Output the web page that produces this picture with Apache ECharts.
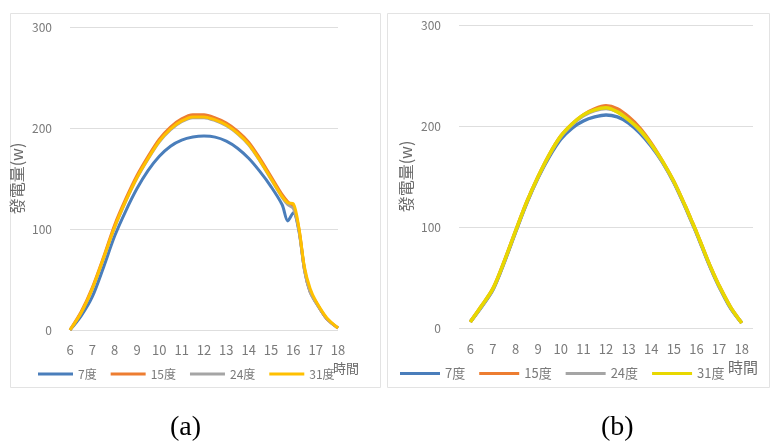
<!DOCTYPE html>
<html lang="zh-Hant">
<head>
<meta charset="UTF-8">
<script src="https://cdn.jsdelivr.net/npm/echarts@6.0.0/dist/echarts.min.js"></script>
<title>發電量</title>
<style>
  html, body { margin: 0; padding: 0; background: #fff; }
  #chart { width: 771px; height: 443px; }
</style>
</head>
<body>
<div id="chart"></div>
<script>
// time of day (hours), shared by all series
const hours = [6, 6.5, 7, 7.5, 8, 8.5, 9, 9.5, 10, 10.5, 11, 11.5, 12, 12.5, 13, 13.5, 14, 14.5, 15, 15.5, 15.75, 16, 16.25, 16.5, 16.75, 17, 17.5, 18];
const seriesNames = ['7度', '15度', '24度', '31度'];
const yTicks = [0, 100, 200, 300];

// panel (a)
const a7 =  [0, 14, 33, 62, 93, 118, 140, 158, 172, 182, 188, 191, 192, 191, 187, 180, 170, 157, 142, 124, 108, 116, 98, 60, 38, 28, 11, 2];
const a15 = [0, 18, 42, 72, 104, 130, 153, 172, 189, 201, 209, 213, 213, 210, 205, 197, 186, 170, 152, 134, 127, 122, 100, 60, 38, 28, 11, 2];
const a24 = [0, 17, 40, 70, 101, 127, 150, 169, 186, 198, 206, 210, 210, 207, 202, 194, 183, 167, 149, 131, 124, 120, 98, 58, 37, 27, 11, 2];
const a31 = [0, 17, 41, 71, 102, 128, 151, 170, 187, 199, 207, 211, 211, 208, 203, 195, 184, 168, 150, 132, 126, 125, 101, 62, 41, 29, 12, 2];

// panel (b)
const b7 =  [6, 21, 38, 65, 95, 124, 149, 170, 187, 198, 205, 209, 211, 209, 203, 193, 180, 164, 144, 120, 107, 94, 80, 66, 53, 41, 20, 5];
const b15 = [6, 22, 39, 66, 96, 125, 150, 172, 190, 202, 211, 217, 220, 217, 209, 198, 183, 165, 145, 121, 108, 95, 81, 67, 54, 42, 21, 5];
const b24 = [6, 21, 38, 65, 95, 124, 149, 171, 189, 201, 210, 215, 217, 214, 206, 195, 181, 164, 144, 120, 107, 94, 80, 66, 53, 41, 20, 5];
const b31 = [6, 22, 39, 66, 96, 125, 150, 172, 190, 202, 211, 216, 218, 214, 206, 196, 182, 165, 145, 121, 108, 95, 81, 67, 54, 42, 21, 5];

const colorsA = ['#4a7ebb', '#ed7d31', '#a5a5a5', '#ffc000'];
const colorsB = ['#4a7ebb', '#ed7d31', '#a5a5a5', '#e8d800'];

const font = '"Noto Sans CJK TC", "Noto Sans", sans-serif';
const labelColor = '#7a7a7a';

function pairs(vals) {
  return hours.map((h, i) => [h, vals[i]]);
}

function makeSeries(dataList, colors, idx, width) {
  return dataList.map((vals, i) => ({
    name: seriesNames[i],
    type: 'line',
    xAxisIndex: idx,
    yAxisIndex: idx,
    data: pairs(vals),
    symbol: 'none',
    smooth: 0.3,
    color: colors[i],
    lineStyle: { width: i === 2 ? width - 0.5 : width, color: colors[i] }
  }));
}

function yAxis(idx) {
  return {
    gridIndex: idx,
    type: 'value',
    min: yTicks[0],
    max: yTicks[yTicks.length - 1],
    interval: 100,
    name: '發電量(w)',
    nameLocation: 'middle',
    nameGap: 45,
    nameRotate: 90,
    nameTextStyle: { fontFamily: font, fontSize: 16, color: '#6a6a6a' },
    axisLine: { show: false },
    axisTick: { show: false },
    axisLabel: { margin: 18, fontFamily: font, fontSize: 12, color: labelColor },
    splitLine: { lineStyle: { color: '#dedede', width: 1 } }
  };
}

const chart = echarts.init(document.getElementById('chart'));
chart.setOption({
  animation: false,
  backgroundColor: '#fff',
  grid: [
    { left: 70, top: 27, width: 268, height: 303 },
    { left: 459, top: 25, width: 294, height: 303 }
  ],
  xAxis: [
    {
      gridIndex: 0, type: 'value', min: 6, max: 18, interval: 1,
      axisLine: { show: false }, axisTick: { show: false }, splitLine: { show: false },
      axisLabel: { margin: 14, fontFamily: font, fontSize: 13, color: labelColor }
    },
    {
      gridIndex: 1, type: 'value', min: 5.5, max: 18.5, interval: 0.5,
      axisLine: { show: false }, axisTick: { show: false }, splitLine: { show: false },
      axisLabel: {
        margin: 15, fontFamily: font, fontSize: 13, color: labelColor,
        formatter: v => (Number.isInteger(v) && v >= 6 && v <= 18 ? String(v) : '')
      }
    }
  ],
  yAxis: [yAxis(0), yAxis(1)],
  legend: [
    {
      left: 33, top: 363, icon: 'rect', itemWidth: 35, itemHeight: 3, itemGap: 14,
      textStyle: { fontFamily: font, fontSize: 12, color: labelColor },
      data: seriesNames.map((n, i) => ({ name: n, itemStyle: { color: colorsA[i] } }))
    },
    {
      left: 395, top: 362, icon: 'rect', itemWidth: 40, itemHeight: 3, itemGap: 14,
      textStyle: { fontFamily: font, fontSize: 13, color: labelColor },
      data: seriesNames.map((n, i) => ({ name: n, itemStyle: { color: colorsB[i] } }))
    }
  ],
  graphic: [
    { type: 'rect', shape: { x: 10.5, y: 13.5, width: 370, height: 374 }, style: { fill: 'none', stroke: '#e3e3e3' }, silent: true },
    { type: 'rect', shape: { x: 387.5, y: 13.5, width: 382, height: 374 }, style: { fill: 'none', stroke: '#e3e3e3' }, silent: true },
    { type: 'text', left: 333, top: 362, style: { text: '時間', font: '13px ' + font, fill: '#6a6a6a' } },
    { type: 'text', left: 728, top: 360, style: { text: '時間', font: '15px ' + font, fill: '#6a6a6a' } },
    { type: 'text', left: 170, top: 414, style: { text: '(a)', font: '28px "Liberation Serif", serif', fill: '#000' } },
    { type: 'text', left: 601, top: 414, style: { text: '(b)', font: '28px "Liberation Serif", serif', fill: '#000' } }
  ],
  series: [
    ...makeSeries([a7, a15, a24, a31], colorsA, 0, 3),
    ...makeSeries([b7, b15, b24, b31], colorsB, 1, 3.5)
  ]
});
</script>
</body>
</html>
